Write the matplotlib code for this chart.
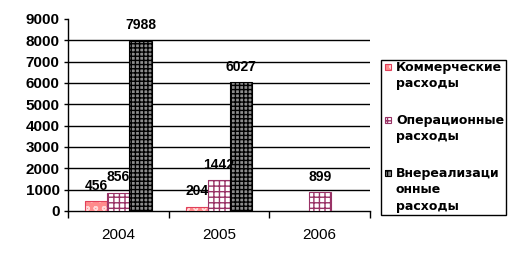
import matplotlib
matplotlib.use("Agg")
import matplotlib.pyplot as plt
from matplotlib.patches import Rectangle
import numpy as np

years = ["2004", "2005", "2006"]
series_names = ["Коммерческие\nрасходы", "Операционные\nрасходы", "Внереализаци\nонные\nрасходы"]
commercial = [456, 204, np.nan]
operational = [856, 1442, 899]
nonoperating = [7988, 6027, np.nan]
yticks = [0, 1000, 2000, 3000, 4000, 5000, 6000, 7000, 8000, 9000]

plt.rcParams['font.family'] = ['Liberation Sans', 'DejaVu Sans']
plt.rcParams['hatch.linewidth'] = 1.0

W, H = 516, 256
fig = plt.figure(figsize=(W/100, H/100), dpi=100)
ax = fig.add_axes([68/W, 1-211/H, (370-68)/W, (211-19)/H])

def fx(x):
    return x / W

def fy(y):
    return 1 - y / H

x = np.arange(len(years))
w = 0.22
# (face colour, hatch colour, hatch, outline colour)
styles = [
    ("#FF8C8C", "#FFD8D8", "oo", "#E0405A"),
    ("white", "#993366", "+++", "#993366"),
    ("#8C8C8C", "black", "++++", "black"),
]
data = [commercial, operational, nonoperating]
for i, (vals, (fc, hc, hatch, oc)) in enumerate(zip(data, styles)):
    pos = x + (i - 1) * w
    ax.bar(pos, vals, width=w, linewidth=0, facecolor=fc, edgecolor=hc, hatch=hatch, zorder=3)
    ax.bar(pos, vals, width=w, linewidth=0.8, facecolor="none", edgecolor=oc, zorder=3.5)
    for p, v in zip(pos, vals):
        if not np.isnan(v):
            ax.annotate(f"{int(v)}", (p, v), xytext=(0, 11), textcoords="offset points",
                        ha="center", va="center", fontsize=10, fontweight="bold", zorder=4)

ax.set_xlim(-0.5, 2.5)
ax.set_ylim(0, 9000)
ax.set_yticks(yticks)
ax.set_yticklabels([str(t) for t in yticks], fontsize=11, fontweight="bold")
ax.set_xticks(x)
ax.set_xticklabels(years, fontsize=11)
ax.set_xticks([-0.5, 0.5, 1.5, 2.5], minor=True)
ax.tick_params(axis="x", which="major", length=0, pad=12)
ax.tick_params(axis="x", which="minor", length=5, width=1, direction="out")
ax.tick_params(axis="y", length=3, width=1, pad=3)
for t in yticks[1:-1]:
    ax.axhline(t, color="black", linewidth=1, zorder=1)
for s in ["top", "right"]:
    ax.spines[s].set_visible(False)
ax.spines["left"].set_linewidth(1)
ax.spines["bottom"].set_linewidth(1)

# legend drawn by hand (marker aligned with first text line)
fig.patches.append(Rectangle((fx(381), fy(215)), fx(506) - fx(381), fy(60) - fy(215),
                             transform=fig.transFigure, facecolor="white",
                             edgecolor="black", linewidth=1, zorder=5))
entry_centers = [67, 120, 173]
for name, (fc, hc, hatch, oc), yc in zip(series_names, styles, entry_centers):
    fig.patches.append(Rectangle((fx(385), fy(yc + 3)), fx(6), 6 / H,
                                 transform=fig.transFigure, linewidth=0, zorder=6,
                                 facecolor=fc, edgecolor=hc, hatch=hatch[:2]))
    fig.patches.append(Rectangle((fx(385), fy(yc + 3)), fx(6), 6 / H,
                                 transform=fig.transFigure, linewidth=0.8, zorder=6.5,
                                 facecolor="none", edgecolor=oc))
    fig.text(fx(396), fy(yc - 6), name, ha="left", va="top",
             fontsize=9, fontweight="bold", family=["DejaVu Sans"],
             linespacing=1.33, zorder=7,
             transform=fig.transFigure)

fig.savefig("out.png", dpi=100)
